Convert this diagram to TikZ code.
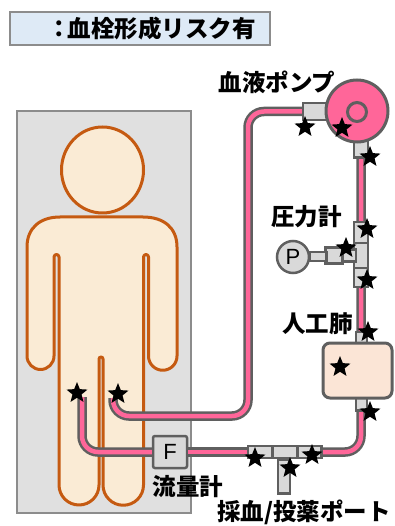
\documentclass[tikz,border=0pt]{standalone}
\usepackage{fontspec}
\newfontfamily\jp{Noto Sans CJK JP}
\newfontfamily\lat{Liberation Sans}
\usetikzlibrary{shapes.geometric}

\definecolor{tubepink}{HTML}{FF6699}
\definecolor{tubegray}{HTML}{5F5F5F}
\definecolor{partfill}{HTML}{D9D9D9}
\definecolor{skin}{HTML}{FAEBD5}
\definecolor{skinline}{HTML}{C55A11}
\definecolor{bedfill}{HTML}{E0E0E0}
\definecolor{bedline}{HTML}{8C8C8C}
\definecolor{lungfill}{HTML}{FBE5D6}
\definecolor{legendfill}{HTML}{DEEAF6}

\tikzset{
  tube/.style={draw=tubegray, line width=2.5pt, double=tubepink, double distance=4.5pt, rounded corners=16pt},
  part/.style={fill=partfill, draw=tubegray, line width=2.5pt},
  risk/.style={star, star points=5, star point ratio=2.3, fill=black, draw=none, minimum size=22pt, inner sep=0pt},
  jplabel/.style={font=\jp\bfseries\fontsize{23.5}{26}\selectfont, inner sep=0pt},
  body/.style={fill=skin, draw=skinline, line width=3pt, line join=round},
}

\begin{document}
\begin{tikzpicture}[x=1pt, y=-1pt]
\useasboundingbox (0,0) rectangle (394,526);

% legend
\node[draw=bedline, fill=legendfill, line width=2pt, minimum width=260pt, minimum height=33pt, inner sep=0pt] (legend) at (140,28.5) {};
\node[jplabel, anchor=west] (legendtext) at (47,28.5) {：\hspace{-3pt}血栓形成リスク有};

% bed
\node[fill=bedfill, draw=bedline, line width=2pt, minimum width=174pt, minimum height=402pt, inner sep=0pt] (bed) at (104,312) {};

% patient
\draw[body] (27,247) .. controls (27,228) and (40,217) .. (60,217)
  -- (143,217) .. controls (164,217) and (177,228) .. (177,247)
  -- (177,356) arc[start angle=0, end angle=-180, radius=14.25pt]
  -- (148.5,257) arc[start angle=0, end angle=180, radius=2.5pt]
  -- (143.5,485) arc[start angle=0, end angle=-180, radius=20.25pt]
  -- (103,359) arc[start angle=0, end angle=180, radius=2pt]
  -- (99,485) arc[start angle=0, end angle=-180, radius=20pt]
  -- (59,257) arc[start angle=0, end angle=180, radius=2.5pt]
  -- (54,356) arc[start angle=0, end angle=-180, radius=13.5pt]
  -- cycle;
\node[body, ellipse, minimum width=82pt, minimum height=86pt, inner sep=0pt] (head) at (102.5,170) {};

% circuit end points
\coordinate (venous) at (82,397);
\coordinate (arterial) at (113,398);
\coordinate (bendA) at (248,416);

% parts of the circuit
\node[part, minimum width=34pt, minimum height=32pt, rounded corners=2pt, inner sep=0pt,
      font=\lat\fontsize{22}{24}\selectfont] (flow) at (170,452) {F};
\node[part, minimum width=24pt, minimum height=12pt, inner sep=0pt] (portL) at (260,452) {};
\node[part, minimum width=24pt, minimum height=12pt, inner sep=0pt] (portR) at (309.5,452) {};
\node[part, minimum width=12pt, minimum height=34pt, inner sep=0pt, anchor=north] (portstem) at (284,458) {};
\node[part, minimum width=24pt, minimum height=12pt, inner sep=0pt] (portM) at (285,452) {};
\node[part, minimum width=24pt, minimum height=17pt, inner sep=0pt] (pumpL) at (315,111.5) {};
\node[part, minimum width=14pt, minimum height=19pt, inner sep=0pt] (pumpB) at (361,148) {};

% tubing
\draw[tube] (venous) |- (flow.west);
\draw[tube] (flow.east) -- (portL.west);
\draw[tube] (portR.east) -| (pumpB.south);
\draw[tube] (arterial) |- (bendA) |- (pumpL.west);

% connectors redrawn over the tubing
\node[part, minimum width=12pt, minimum height=34pt, inner sep=0pt, anchor=north] at (portstem.north) {};
\node[part, minimum width=24pt, minimum height=12pt, inner sep=0pt] at (portL) {};
\node[part, minimum width=24pt, minimum height=12pt, inner sep=0pt] at (portR) {};
\node[part, minimum width=24pt, minimum height=12pt, inner sep=0pt] at (portM) {};
\node[part, minimum width=24pt, minimum height=17pt, inner sep=0pt] at (pumpL) {};
\node[part, minimum width=14pt, minimum height=19pt, inner sep=0pt] at (pumpB) {};

% blood pump
\node[circle, fill=tubepink, draw=tubegray, line width=3pt, minimum size=62pt, inner sep=0pt] (pump) at (357,111) {};
\node[circle, fill=tubepink, draw=tubegray, line width=3pt, minimum size=19pt, inner sep=0pt] (rotor) at (357,112) {};

% pressure gauge on a tee
\node[part, minimum width=14pt, minimum height=21pt, inner sep=0pt] (teeU) at (361,232.5) {};
\node[part, minimum width=14pt, minimum height=19pt, inner sep=0pt] (teeD) at (361,277.5) {};
\node[part, minimum width=14pt, minimum height=25pt, inner sep=0pt] (teeC) at (361,255.5) {};
\node[part, minimum width=18pt, minimum height=12pt, inner sep=0pt] (teeArm) at (347,255.5) {};
\node[part, minimum width=17pt, minimum height=16pt, inner sep=0pt] (gblock) at (334,255.5) {};
\node[part, minimum width=17pt, minimum height=9pt, inner sep=0pt] (gstem) at (318,256.5) {};
\node[part, circle, minimum size=32pt, inner sep=0pt, font=\lat\fontsize{22}{24}\selectfont] (gauge) at (293,257) {P};

% oxygenator
\node[part, minimum width=11pt, minimum height=12pt, inner sep=0pt] (oxyIn) at (361.5,338) {};
\node[part, minimum width=11pt, minimum height=13pt, inner sep=0pt] (oxyOut) at (361.5,404) {};
\node[fill=lungfill, draw=tubegray, line width=3pt, rounded corners=7pt, minimum width=69pt, minimum height=55pt, inner sep=0pt] (lung) at (357.5,370.5) {};

% labels
\node[jplabel] (lblpump) at (277,82) {血液ポンプ};
\node[jplabel] (lblgauge) at (306.5,217) {圧力計};
\node[jplabel] (lbllung) at (317.5,324) {人工肺};
\node[jplabel] (lblflow) at (188,487) {流量計};
\node[jplabel, anchor=west] (lblport) at (217,512) {採血/投薬ポート};

% thrombosis risk marks
\node[risk] (r1) at (77,393) {};
\node[risk] (r2) at (118,394) {};
\node[risk] (r3) at (305,127) {};
\node[risk] (r4) at (342,128) {};
\node[risk] (r5) at (370,157) {};
\node[risk] (r6) at (367,229) {};
\node[risk] (r7) at (346,248) {};
\node[risk] (r8) at (367,280) {};
\node[risk] (r9) at (368,332) {};
\node[risk] (r10) at (340,367) {};
\node[risk] (r11) at (370,412) {};
\node[risk] (r12) at (255,458) {};
\node[risk] (r13) at (290,468) {};
\node[risk] (r14) at (312,455) {};
\end{tikzpicture}
\end{document}
